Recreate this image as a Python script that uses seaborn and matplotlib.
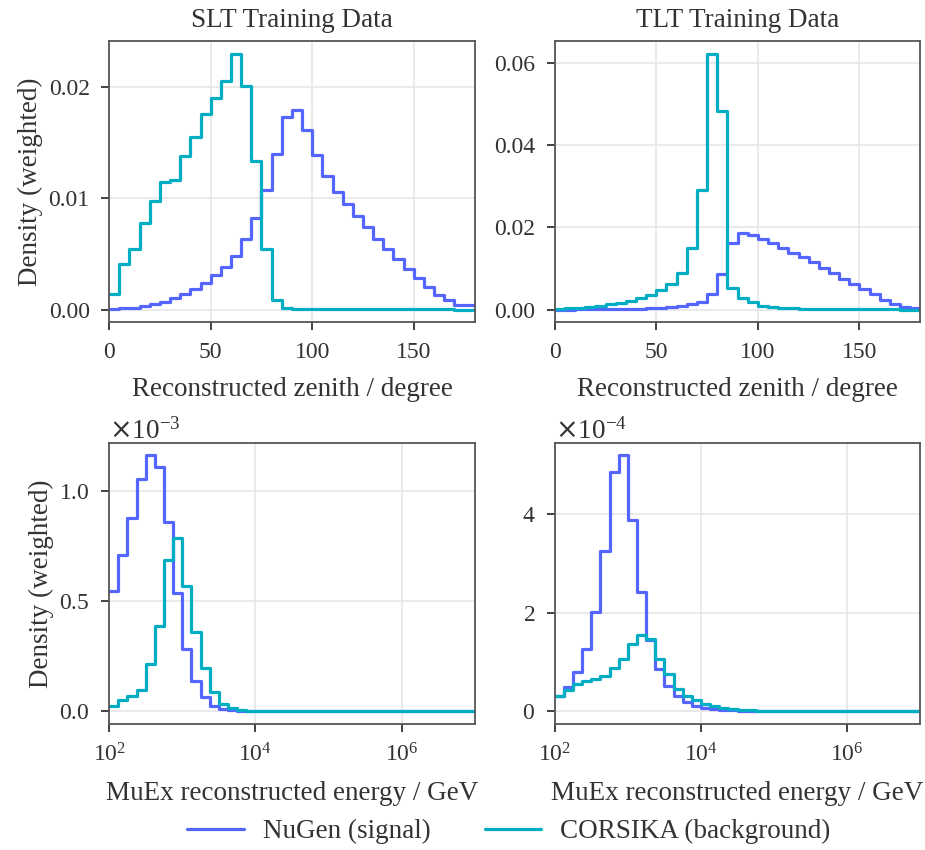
import numpy as np
import pandas as pd
import seaborn as sns
import matplotlib.pyplot as plt
from matplotlib.lines import Line2D
from matplotlib.ticker import MultipleLocator, NullLocator

# Binning
zenith_edges = np.arange(0, 181, 5)          # degrees, 36 bins
log_energy_edges = np.linspace(2, 7, 41)     # log10(E / GeV), 40 bins

# SLT, reconstructed zenith (density)
slt_zen_nugen = [0.00006, 0.00012, 0.00018, 0.00030, 0.00048, 0.00071, 0.00101, 0.00143, 0.00190,
                 0.00244, 0.00310, 0.00381, 0.00482, 0.00637, 0.00821, 0.01071, 0.01399, 0.01726,
                 0.01792, 0.01613, 0.01387, 0.01202, 0.01060, 0.00946, 0.00839, 0.00744, 0.00637,
                 0.00548, 0.00452, 0.00363, 0.00280, 0.00202, 0.00131, 0.00089, 0.00042, 0.00042]
slt_zen_corsika = [0.00137, 0.00411, 0.00542, 0.00780, 0.00976, 0.01143, 0.01161, 0.01381, 0.01548,
                   0.01756, 0.01899, 0.02054, 0.02298, 0.02006, 0.01333, 0.00542, 0.00089, 0.00012,
                   0.00008, 0.00007, 0.00006, 0.00006, 0.00005, 0.00005, 0.00004, 0.00004, 0.00004,
                   0.00003, 0.00003, 0.00003, 0.00002, 0.00002, 0.00002, 0.00002, 0.00001, 0.00001]

# TLT, reconstructed zenith (density)
tlt_zen_nugen = [0.00003, 0.00004, 0.00005, 0.00006, 0.00008, 0.00010, 0.00013, 0.00017, 0.00022,
                 0.00032, 0.00048, 0.00065, 0.00097, 0.00129, 0.00194, 0.00371, 0.00871, 0.01613,
                 0.01871, 0.01806, 0.01710, 0.01613, 0.01500, 0.01387, 0.01274, 0.01161, 0.01016,
                 0.00903, 0.00758, 0.00629, 0.00500, 0.00371, 0.00242, 0.00129, 0.00065, 0.00032]
tlt_zen_corsika = [0.00016, 0.00032, 0.00048, 0.00065, 0.00097, 0.00129, 0.00161, 0.00210, 0.00274,
                   0.00355, 0.00484, 0.00629, 0.00903, 0.01500, 0.02900, 0.06226, 0.04839, 0.00532,
                   0.00290, 0.00177, 0.00097, 0.00065, 0.00048, 0.00032, 0.00024, 0.00020, 0.00016,
                   0.00013, 0.00011, 0.00009, 0.00008, 0.00007, 0.00006, 0.00005, 0.00004, 0.00003]

# SLT, MuEx energy (density, in units of 1e-3)
slt_e_nugen = [0.548, 0.711, 0.877, 1.054, 1.163, 1.108, 0.858, 0.539, 0.283, 0.136,
               0.064, 0.024, 0.012, 0.006, 0.003, 0.002, 0.0015, 0.001, 0.0008, 0.0006,
               0.0005, 0.0004, 0.0003, 0.0003, 0.0002, 0.0002, 0.0002, 0.0001, 0.0001, 0.0001,
               0.0001, 0.0001, 0.0001, 0.0001, 0.0001, 0.0001, 0.0001, 0.0001, 0.0001, 0.0001]
slt_e_corsika = [0.024, 0.051, 0.072, 0.095, 0.214, 0.389, 0.687, 0.789, 0.569, 0.361,
                 0.195, 0.086, 0.035, 0.015, 0.007, 0.004, 0.003, 0.002, 0.0015, 0.001,
                 0.0008, 0.0006, 0.0005, 0.0004, 0.0003, 0.0003, 0.0002, 0.0002, 0.0002, 0.0001,
                 0.0001, 0.0001, 0.0001, 0.0001, 0.0001, 0.0001, 0.0001, 0.0001, 0.0001, 0.0001]

# TLT, MuEx energy (density, in units of 1e-4)
tlt_e_nugen = [0.322, 0.49, 0.79, 1.26, 2.01, 3.26, 4.86, 5.20, 3.89, 2.43,
               1.45, 0.86, 0.52, 0.322, 0.188, 0.115, 0.075, 0.045, 0.030, 0.020,
               0.013, 0.009, 0.006, 0.004, 0.003, 0.002, 0.0015, 0.001, 0.001, 0.0008,
               0.0006, 0.0005, 0.0004, 0.0003, 0.0003, 0.0002, 0.0002, 0.0002, 0.0001, 0.0001]
tlt_e_corsika = [0.322, 0.43, 0.56, 0.615, 0.65, 0.71, 0.88, 1.06, 1.37, 1.56,
                 1.46, 1.06, 0.765, 0.456, 0.322, 0.23, 0.15, 0.10, 0.07, 0.05,
                 0.035, 0.025, 0.018, 0.012, 0.008, 0.006, 0.005, 0.004, 0.003, 0.0025,
                 0.002, 0.0015, 0.0012, 0.001, 0.0008, 0.0006, 0.0005, 0.0004, 0.0003, 0.0003]

labels = ['NuGen (signal)', 'CORSIKA (background)']
colors = ['#5566ff', '#00adc2']
titles = ['SLT Training Data', 'TLT Training Data']

# Style
sns.set_theme(style="ticks")
plt.rcParams['font.family'] = ['Liberation Serif', 'DejaVu Serif']
plt.rcParams.update({
    'font.size': 19.5,
    'axes.labelsize': 19.5,
    'axes.titlesize': 19.5,
    'xtick.labelsize': 17,
    'ytick.labelsize': 17,
    'legend.fontsize': 19.5,
    'text.color': '#333333',
    'axes.labelcolor': '#333333',
    'xtick.color': '#333333',
    'ytick.color': '#333333',
    'axes.edgecolor': '#555555',
    'axes.linewidth': 1.3,
    'xtick.major.width': 1.3,
    'ytick.major.width': 1.3,
    'xtick.major.size': 6,
    'ytick.major.size': 6,
    'xtick.major.pad': 8,
    'ytick.major.pad': 8,
    'mathtext.fontset': 'dejavuserif',
})


def draw_hist(ax, edges, values, color, log=False):
    mids = (edges[:-1] + edges[1:]) / 2
    df = pd.DataFrame({'x': 10 ** mids if log else mids, 'w': values})
    sns.histplot(data=df, x='x', weights='w', bins=list(edges), element='step', fill=False,
                 color=color, linewidth=2.3, log_scale=log, stat='count', ax=ax)


fig, axes = plt.subplots(2, 2, figsize=(9.25, 8.5), dpi=100)
fig.subplots_adjust(left=0.118, right=0.995, bottom=0.148, top=0.952, wspace=0.219, hspace=0.426)

zen_data = [(slt_zen_nugen, slt_zen_corsika), (tlt_zen_nugen, tlt_zen_corsika)]
e_data = [(np.array(slt_e_nugen) * 1e-3, np.array(slt_e_corsika) * 1e-3),
          (np.array(tlt_e_nugen) * 1e-4, np.array(tlt_e_corsika) * 1e-4)]
zen_steps = [0.01, 0.02]
e_steps = [0.5e-3, 2e-4]

for col in range(2):
    # Zenith
    ax = axes[0, col]
    for vals, c in zip(zen_data[col], colors):
        draw_hist(ax, zenith_edges, vals, c)
    ymax = max(max(v) for v in zen_data[col])
    ax.set_xlim(0, 180)
    ax.set_ylim(-0.05 * ymax, 1.05 * ymax)
    ax.xaxis.set_major_locator(MultipleLocator(50))
    ax.yaxis.set_major_locator(MultipleLocator(zen_steps[col]))
    ax.set_xlabel('Reconstructed zenith / degree', labelpad=10)
    ax.set_title(titles[col], pad=10)

    # Energy
    ax = axes[1, col]
    for vals, c in zip(e_data[col], colors):
        draw_hist(ax, log_energy_edges, vals, c, log=True)
    ymax = max(max(v) for v in e_data[col])
    ax.set_xlim(1e2, 1e7)
    ax.set_ylim(-0.05 * ymax, 1.05 * ymax)
    ax.set_xticks([1e2, 1e4, 1e6])
    ax.xaxis.set_minor_locator(NullLocator())
    ax.yaxis.set_major_locator(MultipleLocator(e_steps[col]))
    ax.ticklabel_format(axis='y', style='sci', scilimits=(0, 0), useMathText=True)
    ax.yaxis.get_offset_text().set_fontsize(19.5)
    ax.set_xlabel('MuEx reconstructed energy / GeV', labelpad=10)

for ax in axes.flat:
    ax.grid(True, color='#e6e6e6', linewidth=1.2)
    ax.set_axisbelow(True)
    for s in ax.spines.values():
        s.set_visible(True)
    ax.set_ylabel('')

axes[0, 0].set_ylabel('Density (weighted)', labelpad=4)
axes[1, 0].set_ylabel('Density (weighted)', labelpad=4)

handles = [Line2D([], [], color=c, linewidth=2.3) for c in colors]
fig.legend(handles, labels, loc='lower center', bbox_to_anchor=(0.55, -0.022), ncol=2,
           frameon=False, handlelength=2.1, handletextpad=0.7, columnspacing=2.0)

fig.savefig('out.png', dpi=100)
